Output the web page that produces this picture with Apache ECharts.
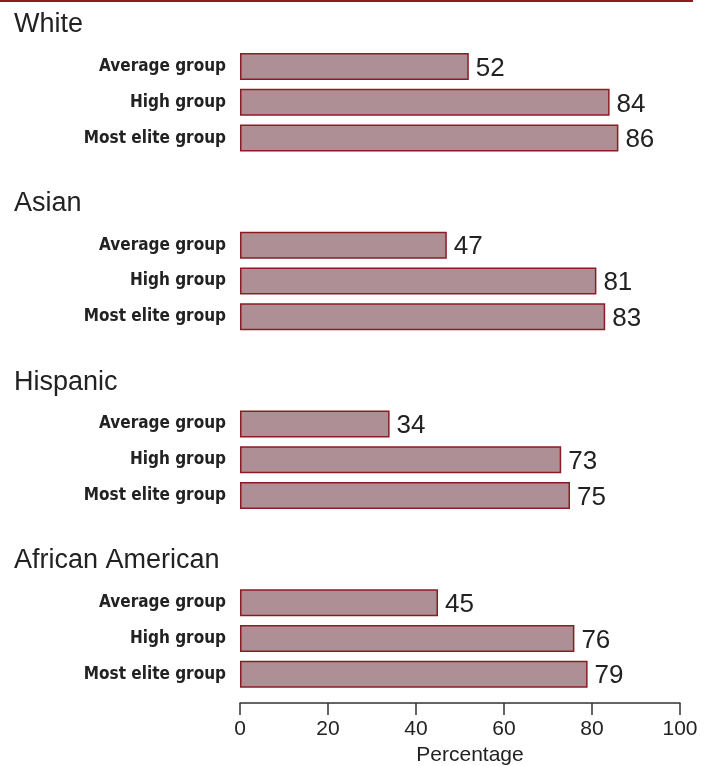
<!DOCTYPE html>
<html><head><meta charset="utf-8">
<script src="https://cdn.jsdelivr.net/npm/echarts@6/dist/echarts.min.js"></script>
<style>html,body{margin:0;padding:0;background:#fff}#c{width:706px;height:766px}</style>
</head><body><div id="c"></div>
<script>
const groups = ['White', 'Asian', 'Hispanic', 'African American'];
const levels = ['Average group', 'High group', 'Most elite group'];
const white = [52, 84, 86];
const asian = [47, 81, 83];
const hispanic = [34, 73, 75];
const africanAmerican = [45, 76, 79];
const xTicks = [0, 20, 40, 60, 80, 100];

const groupValues = [white, asian, hispanic, africanAmerican];
const cats = [], vals = [], titleIdx = [];
groups.forEach((g, gi) => {
  titleIdx.push(cats.length);
  cats.push('');
  vals.push('-');
  levels.forEach((l, li) => { cats.push(l); vals.push(groupValues[gi][li]); });
  if (gi < groups.length - 1) { cats.push(''); vals.push('-'); }
});

const chart = echarts.init(document.getElementById('c'));
const dark = '#8b1c24';
const sans = 'Liberation Sans, Arial, sans-serif';
chart.setOption({
  animation: false,
  grid: { left: 240, right: 26, top: 13, bottom: 74, containLabel: false, outerBoundsMode: 'none' },
  xAxis: {
    type: 'value', min: 0, max: 100, interval: 20, offset: 11,
    axisLine: { show: true, lineStyle: { color: '#333', width: 1.5 } },
    axisTick: { show: true, length: 12, lineStyle: { color: '#333', width: 1.5 } },
    splitLine: { show: false },
    axisLabel: { fontSize: 21, color: '#222', margin: 16, fontFamily: sans,
      formatter: v => xTicks.includes(v) ? String(v) : '' },
    name: 'Percentage', nameLocation: 'middle', nameGap: 41,
    nameTextStyle: { fontSize: 21, color: '#222', fontFamily: sans, padding: [0, 0, 0, 20] }
  },
  yAxis: {
    type: 'category', data: cats, inverse: true,
    axisLine: { show: false }, axisTick: { show: false },
    axisLabel: { fontSize: 17, fontWeight: 'bold', color: '#222', margin: 14,
      fontFamily: '"Liberation Sans Narrow", "DejaVu Sans Condensed", sans-serif' }
  },
  series: [{
    type: 'bar', data: vals, barWidth: 27,
    itemStyle: { color: '#ad8f95', borderColor: dark, borderWidth: 1.5 },
    label: { show: true, position: 'right', distance: 7, fontSize: 26, color: '#222',
      fontFamily: sans, offset: [0, 2] }
  }]
});

const graphics = [{
  type: 'line', shape: { x1: 0, y1: 1, x2: 693, y2: 1 },
  style: { stroke: dark, lineWidth: 2 }
}];
groups.forEach((g, gi) => {
  const y = chart.convertToPixel({ yAxisIndex: 0 }, titleIdx[gi]);
  graphics.push({
    type: 'text', x: 14, y: y - 6,
    style: { text: g, fontSize: 27, fill: '#222', fontFamily: sans,
      verticalAlign: 'middle', align: 'left' }
  });
});
chart.setOption({ graphic: graphics });
</script></body></html>
